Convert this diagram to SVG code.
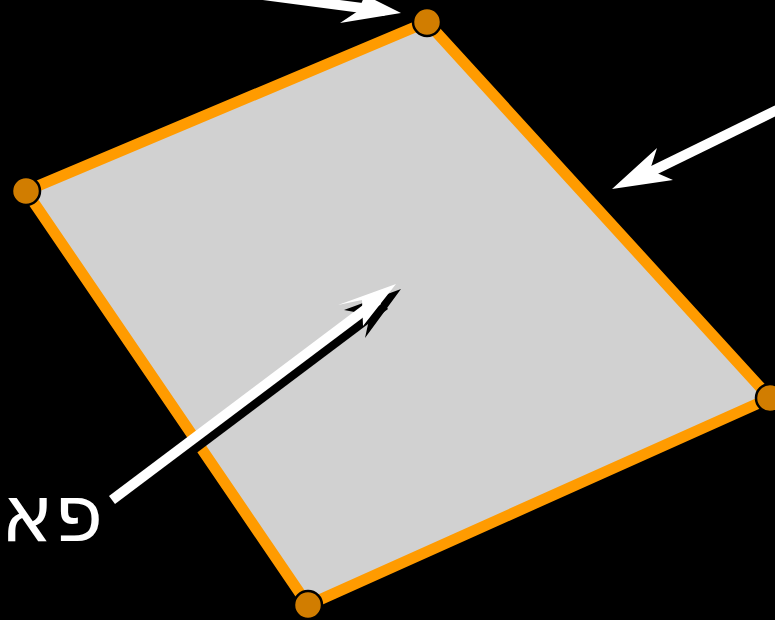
<svg xmlns="http://www.w3.org/2000/svg" width="775" height="620" viewBox="0 0 775 620">
<style>
.vtx{fill:#d17d00;stroke:#000;stroke-width:2.5}
.line{stroke:#fff;stroke-width:10;fill:none}
.head{fill:#fff}
</style>
<rect width="775" height="620" fill="#000"/>
<g id="plane">
<polygon points="427,22 26,191 308,605 770,398" fill="#d1d1d1" stroke="#ff9b00" stroke-width="11" stroke-linejoin="miter"/>
</g>
<g id="connectors">
<g id="arrow-top">
<line class="line" x1="225" y1="-10" x2="385" y2="11"/>
<polygon class="head" points="401,13 340,23 358,11 365,-5"/>
</g>
<g id="arrow-right">
<line class="line" x1="777" y1="110" x2="640" y2="177"/>
<polygon class="head" points="612,189 657,148 650,170 673,180"/>
</g>
<g id="arrow-center">
<line stroke="#000" stroke-width="10" x1="119" y1="505" x2="385" y2="305"/>
<polygon fill="#000" points="401,289 365,338 370,315 344,310"/>
<line class="line" x1="112" y1="500" x2="378" y2="300"/>
<polygon class="head" points="396,284 338,305 362,300 363,326"/>
</g>
</g>
<g id="label">
<text x="1" y="541" font-family="DejaVu Sans, sans-serif" font-size="79" fill="#fff">פא</text>
</g>
<g id="vertices">
<circle class="vtx" cx="427" cy="22" r="14"/>
<circle class="vtx" cx="26" cy="191" r="14"/>
<circle class="vtx" cx="770" cy="398" r="14"/>
<circle class="vtx" cx="308" cy="605" r="14"/>
</g>
</svg>
